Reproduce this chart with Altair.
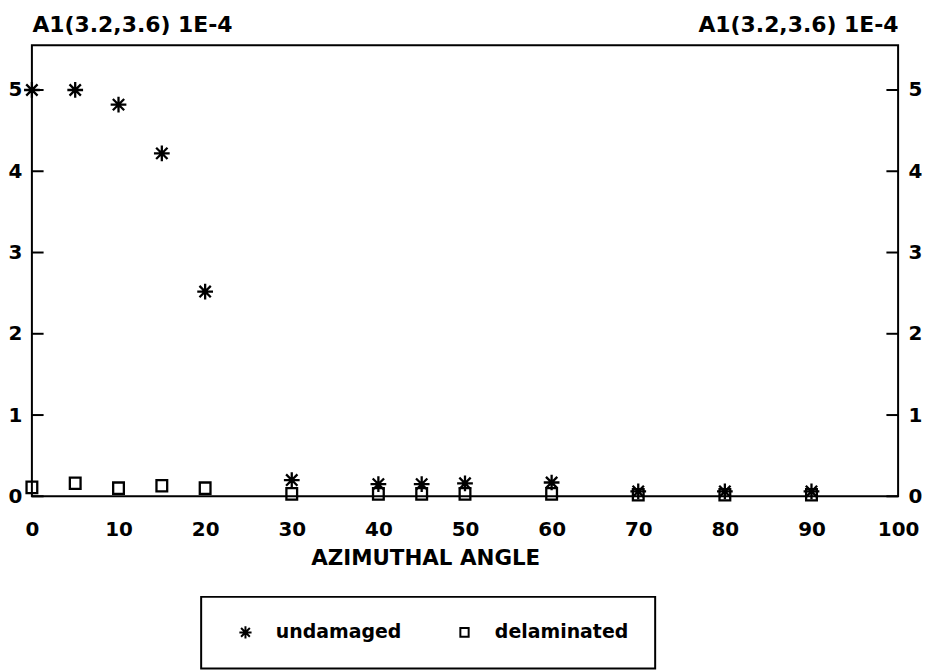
import altair as alt
import pandas as pd

# ---- data ----
angles_u = [0, 5, 10, 15, 20, 30, 40, 45, 50, 60, 70, 80, 90]
undamaged = [5.0, 5.0, 4.82, 4.22, 2.52, 0.20, 0.15, 0.15, 0.16, 0.17, 0.06, 0.06, 0.06]
angles_d = [0, 5, 10, 15, 20, 30, 40, 45, 50, 60, 70, 80, 90]
delaminated = [0.11, 0.16, 0.10, 0.13, 0.10, 0.03, 0.03, 0.03, 0.03, 0.03, 0.02, 0.02, 0.02]
series_names = ["undamaged", "delaminated"]
x_ticks = [0, 10, 20, 30, 40, 50, 60, 70, 80, 90, 100]
y_ticks = [0, 1, 2, 3, 4, 5]
panel_title = "A1(3.2,3.6) 1E-4"
x_title = "AZIMUTHAL ANGLE"

FONT = "DejaVu Sans"
STAR = "M0,-1L0,1M-1,0L1,0M-0.72,-0.72L0.72,0.72M-0.72,0.72L0.72,-0.72"
SQUARE = "M-0.68,-0.72H0.68V0.72H-0.68Z"
TICK = 1.35  # inward tick length in x units

df = pd.concat([
    pd.DataFrame({"angle": angles_d, "value": delaminated, "series": "delaminated"}),
    pd.DataFrame({"angle": angles_u, "value": undamaged, "series": "undamaged"}),
], ignore_index=True)

ticks_df = pd.concat([
    pd.DataFrame({"y": y_ticks, "x0": [0] * len(y_ticks), "x1": [TICK] * len(y_ticks)}),
    pd.DataFrame({"y": y_ticks, "x0": [100 - TICK] * len(y_ticks), "x1": [100] * len(y_ticks)}),
], ignore_index=True)

xscale = alt.Scale(domain=[0, 100], nice=False, zero=False)
yscale = alt.Scale(domain=[0, 5.55], nice=False)

x_axis = alt.Axis(values=x_ticks, ticks=False, domain=False, grid=False, labelPadding=23,
                  labelFlush=False,
                  labelFont=FONT, labelFontWeight="bold", labelFontSize=20, labelColor="black",
                  title=x_title, titleFont=FONT, titleFontWeight="bold", titleFontSize=21.5,
                  titleColor="black", titleX=395, titleAlign="center", titlePadding=8)

def y_axis(orient, align):
    return alt.Axis(orient=orient, values=y_ticks, ticks=False, domain=False, grid=False,
                    labelPadding=10, labelFont=FONT, labelFontWeight="bold", labelFontSize=20,
                    labelColor="black", title=panel_title, titleFont=FONT, titleFontWeight="bold",
                    titleFontSize=22, titleColor="black", titleAngle=0, titleX=0, titleY=-14,
                    titleAlign=align, titleBaseline="alphabetic")

points = alt.Chart(df).mark_point(filled=False, strokeWidth=2.3, color="black", opacity=1,
                                  size=250).encode(
    x=alt.X("angle:Q", scale=xscale, axis=x_axis),
    y=alt.Y("value:Q", scale=yscale, axis=y_axis("left", "left")),
    shape=alt.Shape("series:N", scale=alt.Scale(domain=series_names, range=[STAR, SQUARE]),
                    legend=alt.Legend(title=None, orient="none", direction="horizontal",
                                      legendX=170, legendY=554, padding=26,
                                      strokeColor="black",
                                      labelFont=FONT, labelFontWeight="bold", labelFontSize=19,
                                      labelColor="black", labelOffset=21, columnPadding=44,
                                      symbolOffset=9,
                                      symbolSize=150, symbolStrokeColor="black",
                                      symbolStrokeWidth=2, symbolFillColor="transparent")),
)

tick_rules = alt.Chart(ticks_df).mark_rule(color="black", strokeWidth=2).encode(
    x=alt.X("x0:Q", scale=xscale),
    x2="x1:Q",
    y=alt.Y("y:Q", scale=yscale, axis=y_axis("right", "right")),
)

chart = alt.layer(points, tick_rules).resolve_axis(y="independent").properties(
    width=870, height=453, padding={"left": 0, "top": 4, "right": 0, "bottom": 0},
    background="white"
).configure_view(stroke="black", strokeWidth=2).configure_legend(strokeWidth=2)

chart.save("out.html", embed_options={"renderer": "svg", "actions": False})
